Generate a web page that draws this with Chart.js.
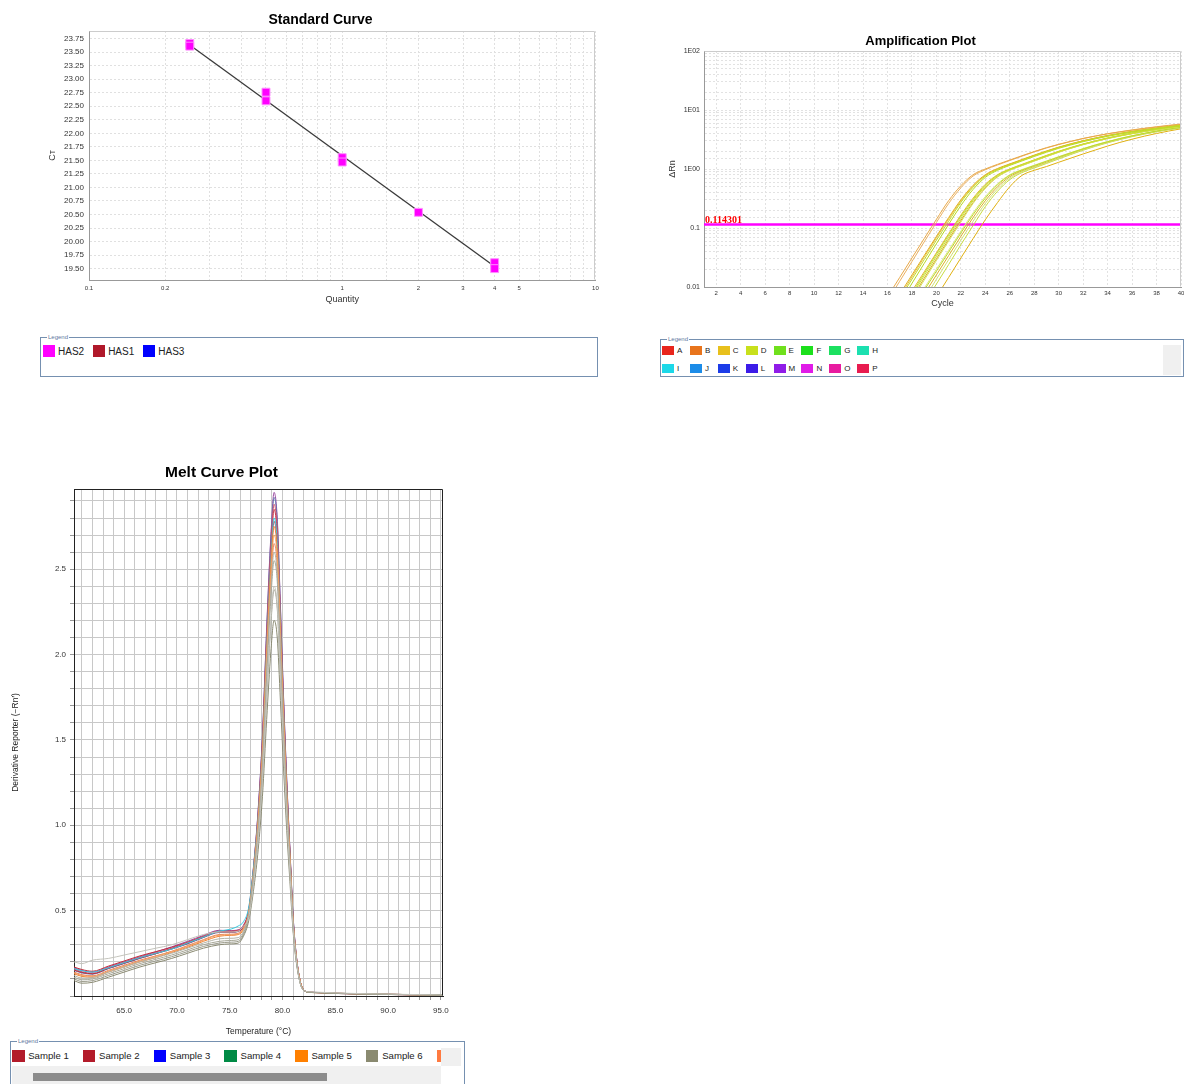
<!DOCTYPE html>
<html>
<head>
<meta charset="utf-8">
<script src="https://cdn.jsdelivr.net/npm/chart.js@4.4.0/dist/chart.umd.min.js"></script>
<style>
body{margin:0;background:#fff;width:1184px;height:1084px;position:relative;overflow:hidden;font-family:"Liberation Sans",Arial,sans-serif;color:#222;}
canvas{position:absolute;}
.lgbox{position:absolute;border:1px solid #7590b0;box-sizing:border-box;background:#fff;}
.lgbox .cap{position:absolute;left:6px;top:-5px;font-size:6px;line-height:8px;color:#6078a0;background:#fff;padding:0 1px;}
.items{position:absolute;white-space:nowrap;}
.items .it{display:inline-flex;align-items:center;}
.items i{display:inline-block;}
#stdItems{left:2px;top:5px;}
#stdItems .it{margin-right:9px;font-size:10px;}
#stdItems i{width:12px;height:12px;margin-right:3px;}
#ampItems{left:1px;top:6px;display:grid;grid-template-columns:repeat(8,27.9px);grid-auto-rows:18.3px;}
#ampItems .it{font-size:8px;height:9px;}
#ampItems i{width:12px;height:9px;margin-right:3px;}
#meltItems{left:1px;top:6px;width:429px;overflow:hidden;}
#meltItems .it{width:70.8px;font-size:9.6px;}
#meltItems i{width:12.5px;height:12.5px;margin-right:3.7px;flex:none;}
.gray{position:absolute;background:#f0f0f0;}
</style>
</head>
<body>
<canvas id="std" width="562" height="310" style="left:40px;top:0px"></canvas>
<canvas id="amp" width="524" height="290" style="left:660px;top:20px"></canvas>
<canvas id="melt" width="474" height="600" style="left:0px;top:450px"></canvas>

<div class="lgbox" style="left:40px;top:337px;width:558px;height:40px"><span class="cap">Legend</span><div class="items" id="stdItems"></div></div>
<div class="lgbox" style="left:660px;top:339px;width:524px;height:38px"><span class="cap">Legend</span><div class="items" id="ampItems"></div><div class="gray" style="left:502px;top:5px;width:18px;height:30px"></div></div>
<div class="lgbox" style="left:10px;top:1041px;width:455px;height:60px"><span class="cap">Legend</span><div class="items" id="meltItems"></div>
  <div class="gray" style="left:430px;top:6px;width:20px;height:18px"></div>
  <div class="gray" style="left:1px;top:24px;width:429px;height:20px"><div style="position:absolute;left:21px;top:7px;width:294px;height:8px;background:#8c8c8c"></div></div>
</div>

<script>
// ---- Standard curve ----
var stdQty = [0.25, 0.25, 0.5, 0.5, 1, 1, 2, 4, 4];
var stdCt = [23.66, 23.61, 22.76, 22.60, 21.55, 21.47, 20.54, 19.61, 19.50];
var stdFitQty = [0.25, 4];
var stdFitCt = [23.63, 19.54];
var stdXLabels = [0.1, 0.2, 1, 2, 3, 4, 5, 10];
var stdSeries = ['HAS2', 'HAS1', 'HAS3'];
var stdSeriesColors = ['#ff00ff', '#b0182a', '#0000ff'];

// ---- Amplification plot ----
var ampThreshold = 0.114301;
var ampYTicks = [0.01, 0.1, 1, 10, 100];
var ampYLabels = ['0.01', '0.1', '1E00', '1E01', '1E02'];
var ampStart = [17, 17, 18, 18, 18, 19, 19, 19, 19, 16, 16, 17, 17, 18, 18, 19, 20];
var ampColors = ['#c4dc28', '#b8d820', '#cce030', '#d4e460', '#c0dc30', '#bcd828', '#d0e070', '#c8dc40', '#dce880',
                 '#e8a848', '#eab060', '#e0b020', '#e8c040', '#e4b830', '#d8a820', '#dcb028', '#e0b010'];
var ampCurves = [
  [0.0062,0.0135,0.029,0.062,0.13,0.27,0.49,0.76,0.98,1.18,1.41,1.68,1.98,2.3,2.63,2.97,3.31,3.65,3.97,4.3,4.6,4.9,5.2,5.5],
  [0.0052,0.0115,0.025,0.054,0.115,0.24,0.45,0.72,0.95,1.15,1.37,1.63,1.92,2.24,2.56,2.9,3.24,3.58,3.9,4.22,4.53,4.83,5.12,5.4],
  [0.0072,0.0155,0.033,0.07,0.146,0.29,0.51,0.77,0.98,1.17,1.4,1.66,1.96,2.28,2.62,2.96,3.32,3.66,4.0,4.35,4.68,5.0,5.3],
  [0.006,0.013,0.028,0.06,0.126,0.26,0.47,0.73,0.95,1.14,1.36,1.62,1.92,2.24,2.58,2.92,3.27,3.62,3.96,4.3,4.63,4.95,5.25],
  [0.0078,0.0168,0.036,0.076,0.157,0.305,0.53,0.785,0.99,1.18,1.41,1.68,1.98,2.3,2.64,2.98,3.34,3.68,4.03,4.37,4.7,5.02,5.32],
  [0.0088,0.0185,0.039,0.082,0.168,0.32,0.54,0.78,0.96,1.14,1.35,1.6,1.88,2.2,2.55,2.9,3.28,3.65,4.02,4.4,4.75,5.1],
  [0.0062,0.0135,0.029,0.062,0.13,0.26,0.46,0.7,0.9,1.07,1.27,1.52,1.8,2.12,2.46,2.82,3.2,3.58,3.95,4.32,4.68,5.02],
  [0.0052,0.0112,0.024,0.052,0.11,0.23,0.42,0.66,0.87,1.04,1.24,1.48,1.76,2.08,2.42,2.78,3.15,3.53,3.9,4.28,4.63,4.98],
  [0.0095,0.02,0.042,0.088,0.18,0.34,0.56,0.8,0.98,1.16,1.37,1.62,1.9,2.22,2.57,2.92,3.3,3.67,4.04,4.42,4.77,5.12],
  [0.0068,0.0145,0.031,0.066,0.14,0.29,0.52,0.8,1.0,1.2,1.42,1.68,1.98,2.3,2.62,2.95,3.3,3.62,3.95,4.25,4.55,4.85,5.15,5.42,5.7],
  [0.0058,0.0125,0.027,0.058,0.124,0.26,0.48,0.76,0.97,1.17,1.39,1.65,1.95,2.27,2.6,2.93,3.28,3.62,3.96,4.28,4.6,4.9,5.2,5.5,5.8],
  [0.0075,0.016,0.034,0.072,0.15,0.3,0.53,0.8,1.02,1.22,1.45,1.72,2.02,2.35,2.68,3.02,3.36,3.7,4.02,4.35,4.65,4.95,5.25,5.55],
  [0.0068,0.0148,0.032,0.068,0.142,0.285,0.51,0.78,1.0,1.2,1.43,1.7,2.0,2.33,2.66,3.0,3.34,3.68,4.0,4.33,4.63,4.93,5.23,5.52],
  [0.0085,0.018,0.038,0.08,0.165,0.32,0.55,0.8,1.0,1.2,1.43,1.7,2.0,2.32,2.66,3.0,3.36,3.7,4.05,4.4,4.72,5.05,5.35],
  [0.0065,0.014,0.03,0.064,0.134,0.27,0.48,0.74,0.96,1.15,1.37,1.63,1.93,2.26,2.6,2.94,3.3,3.64,3.98,4.32,4.65,4.97,5.27],
  [0.0075,0.016,0.034,0.072,0.15,0.29,0.5,0.74,0.93,1.1,1.3,1.55,1.83,2.15,2.5,2.85,3.22,3.6,3.97,4.35,4.7,5.05],
  [0.0068,0.0145,0.031,0.066,0.138,0.27,0.5,0.78,0.95,1.1,1.3,1.53,1.8,2.1,2.45,2.82,3.2,3.6,4.0,4.4,4.8]
];
var ampWells = ['A','B','C','D','E','F','G','H','I','J','K','L','M','N','O','P'];
var ampWellColors = ['#e8251c','#e8741c','#e8c01c','#c8e01c','#70e01c','#1ce01c','#1ce060','#1ce0b0',
                     '#1cd8e8','#1c8ce8','#1c3ce8','#3c1ce8','#901ce8','#e01ce8','#e81ca0','#e81c50'];

// ---- Melt curve ----
var meltTemp = [60.25,61,62,63.5,65,66.5,68,69.5,71,72.5,74,75,75.8,76.3,76.8,77.3,77.7,78.1,78.5,78.9,79.2,79.5,79.8,80.1,80.4,80.7,81.0,81.3,81.7,82.1,82.6,83.5,85,88,91,95.2];
var meltXLabels = [65, 70, 75, 80, 85, 90, 95];
var meltYLabels = [0.5, 1.0, 1.5, 2.0, 2.5];
var meltColors = ['#c4c4bc','#8a8a72','#9c9c8c','#a8a898','#b4b4a8',
                  '#f4a060','#e8805a','#f08030','#38c8e0','#b83040','#d0506a','#c0303c','#6070b0','#9a4aa0'];
var meltCurves = [
  [0.2,0.19,0.21,0.22,0.24,0.26,0.28,0.3,0.33,0.36,0.375,0.375,0.38,0.41,0.46,0.68,0.92,1.27,1.76,2.2,2.4,2.29,1.88,1.44,1.05,0.72,0.4,0.21,0.07,0.03,0.024,0.022,0.018,0.013,0.01,0.006],
  [0.09,0.075,0.08,0.11,0.14,0.17,0.195,0.22,0.25,0.28,0.3,0.305,0.31,0.35,0.44,0.64,0.86,1.17,1.62,2.02,2.2,2.1,1.73,1.33,0.97,0.67,0.38,0.2,0.07,0.03,0.021,0.019,0.015,0.011,0.008,0.005],
  [0.1,0.085,0.09,0.12,0.15,0.18,0.205,0.23,0.26,0.29,0.31,0.315,0.32,0.36,0.46,0.68,0.91,1.26,1.75,2.18,2.38,2.27,1.86,1.43,1.04,0.72,0.4,0.21,0.07,0.03,0.022,0.02,0.016,0.012,0.009,0.006],
  [0.11,0.095,0.1,0.13,0.16,0.19,0.215,0.24,0.27,0.3,0.32,0.325,0.33,0.37,0.48,0.72,0.97,1.34,1.87,2.33,2.55,2.43,1.99,1.52,1.11,0.76,0.42,0.22,0.07,0.03,0.022,0.02,0.016,0.012,0.009,0.006],
  [0.12,0.105,0.108,0.14,0.17,0.2,0.225,0.25,0.28,0.31,0.335,0.338,0.342,0.38,0.48,0.72,0.98,1.36,1.91,2.38,2.6,2.47,2.03,1.55,1.13,0.78,0.42,0.22,0.07,0.03,0.022,0.02,0.016,0.012,0.009,0.006],
  [0.135,0.12,0.115,0.145,0.175,0.205,0.232,0.26,0.29,0.326,0.356,0.358,0.364,0.394,0.49,0.74,1.02,1.41,1.98,2.47,2.7,2.57,2.1,1.61,1.17,0.8,0.44,0.23,0.08,0.03,0.022,0.02,0.016,0.012,0.009,0.006],
  [0.14,0.125,0.118,0.15,0.18,0.21,0.235,0.262,0.295,0.33,0.36,0.362,0.368,0.398,0.48,0.73,1.0,1.39,1.95,2.43,2.65,2.52,2.06,1.58,1.15,0.79,0.43,0.22,0.08,0.03,0.022,0.02,0.016,0.012,0.009,0.006],
  [0.13,0.115,0.11,0.14,0.17,0.2,0.225,0.255,0.285,0.32,0.35,0.355,0.36,0.39,0.49,0.75,1.04,1.44,2.02,2.52,2.75,2.61,2.14,1.64,1.19,0.82,0.44,0.23,0.08,0.03,0.021,0.019,0.015,0.011,0.008,0.005],
  [0.16,0.148,0.14,0.165,0.195,0.225,0.25,0.275,0.31,0.345,0.38,0.39,0.41,0.435,0.52,0.78,1.06,1.46,2.05,2.56,2.8,2.66,2.18,1.67,1.21,0.83,0.45,0.23,0.08,0.03,0.022,0.02,0.016,0.012,0.009,0.006],
  [0.152,0.138,0.13,0.162,0.192,0.222,0.248,0.276,0.308,0.344,0.374,0.374,0.38,0.406,0.5,0.76,1.05,1.46,2.05,2.54,2.78,2.64,2.16,1.66,1.2,0.83,0.45,0.23,0.08,0.03,0.022,0.02,0.016,0.012,0.009,0.006],
  [0.158,0.142,0.133,0.165,0.196,0.226,0.252,0.28,0.312,0.348,0.378,0.378,0.383,0.41,0.5,0.78,1.08,1.5,2.11,2.63,2.88,2.73,2.23,1.71,1.24,0.85,0.46,0.24,0.08,0.03,0.022,0.02,0.016,0.012,0.009,0.006],
  [0.17,0.155,0.145,0.175,0.205,0.235,0.26,0.285,0.315,0.35,0.38,0.38,0.385,0.41,0.5,0.77,1.06,1.48,2.08,2.6,2.85,2.7,2.21,1.69,1.23,0.84,0.45,0.23,0.08,0.03,0.022,0.02,0.016,0.012,0.009,0.006],
  [0.15,0.135,0.128,0.16,0.19,0.22,0.248,0.275,0.305,0.342,0.372,0.372,0.378,0.405,0.5,0.78,1.09,1.52,2.14,2.68,2.92,2.78,2.27,1.74,1.26,0.86,0.47,0.24,0.08,0.03,0.022,0.019,0.015,0.011,0.008,0.005],
  [0.165,0.15,0.14,0.17,0.2,0.23,0.258,0.288,0.32,0.355,0.385,0.383,0.388,0.415,0.51,0.79,1.1,1.53,2.16,2.7,2.95,2.8,2.29,1.75,1.27,0.86,0.47,0.24,0.08,0.03,0.023,0.02,0.015,0.012,0.008,0.005]
];
var meltSamples = ['Sample 1','Sample 2','Sample 3','Sample 4','Sample 5','Sample 6','Sample 7'];
var meltSampleColors = ['#b31b2a','#b31b2a','#0000ff','#008a45','#ff8000','#8a8a70','#ff7a40'];

Chart.defaults.font.family = '"Liberation Sans", Arial, sans-serif';
Chart.defaults.color = '#333';
Chart.defaults.animation = false;

// light frame on top/right of the plot area
Chart.register({
    id: 'frame',
    afterDraw: function(chart, args, opts) {
        if (!opts.color) return;
        var a = chart.chartArea, c = chart.ctx;
        c.save();
        c.strokeStyle = opts.color;
        c.lineWidth = 1;
        c.beginPath();
        c.moveTo(Math.round(a.left) + 0.5, Math.round(a.top) + 0.5);
        c.lineTo(Math.round(a.right) - 0.5, Math.round(a.top) + 0.5);
        c.lineTo(Math.round(a.right) - 0.5, Math.round(a.bottom) - 0.5);
        c.stroke();
        c.restore();
    }
});
// threshold value written over the line
Chart.register({
    id: 'thrLabel',
    afterDatasetsDraw: function(chart, args, opts) {
        if (!opts.text) return;
        var y = chart.scales.y.getPixelForValue(opts.value);
        var c = chart.ctx;
        c.save();
        c.font = 'bold 10px "Liberation Serif", serif';
        c.fillStyle = '#ff0000';
        c.textBaseline = 'alphabetic';
        c.fillText(opts.text, chart.chartArea.left + 1, y - 2);
        c.restore();
    }
});

function near(v, list) {
    for (var i = 0; i < list.length; i++) {
        if (Math.abs(v / list[i] - 1) < 1e-6) return i;
    }
    return -1;
}
// keep the plot edge where it is, labels at the ends may hang over
function fitX(h) {
    return function(s) { s.height = h; s.paddingLeft = 0; s.paddingRight = 0; };
}

// Standard Curve
var stdPts = stdQty.map(function(q, i) { return {x: q, y: stdCt[i]}; });
var stdFit = stdFitQty.map(function(q, i) { return {x: q, y: stdFitCt[i]}; });
new Chart(document.getElementById('std'), {
    type: 'scatter',
    data: {
        datasets: [
            {type: 'line', data: stdFit, borderColor: '#3a3a3a', borderWidth: 1.3, pointRadius: 0, order: 2},
            {data: stdPts, pointStyle: 'rect', pointRadius: 5.6, backgroundColor: '#ff00ff', borderColor: '#ff8cff', borderWidth: 1, order: 1}
        ]
    },
    options: {
        responsive: false,
        devicePixelRatio: 1,
        layout: {padding: {right: 1}},
        plugins: {
            legend: {display: false},
            tooltip: {enabled: false},
            title: {display: true, text: 'Standard Curve', color: '#000', font: {size: 14, weight: 'bold'}, padding: {top: 11.6, bottom: 2.6}},
            frame: {color: '#cccccc'}
        },
        scales: {
            x: {
                type: 'logarithmic', min: 0.1, max: 10,
                afterFit: fitX(30),
                grid: {color: '#e0e0e0', drawTicks: false},
                border: {color: '#999', dash: [2, 2]},
                ticks: {autoSkip: false, maxRotation: 0, font: {size: 6}, padding: 5,
                    callback: function(v) { var k = near(v, stdXLabels); return k < 0 ? '' : String(stdXLabels[k]); }},
                title: {display: true, text: 'Quantity', font: {size: 9}, color: '#333', padding: {top: 0, bottom: 4.6}}
            },
            y: {
                min: 19.29, max: 23.89,
                afterFit: function(s) { s.width = 49; },
                grid: {color: '#e0e0e0', drawTicks: false},
                border: {color: '#999', dash: [2, 2]},
                ticks: {stepSize: 0.25, includeBounds: false, font: {size: 8}, padding: 5,
                    callback: function(v) { return v.toFixed(2); }},
                title: {display: true, text: 'Cᴛ', font: {size: 9}, color: '#333', padding: {top: 7.6, bottom: 0}}
            }
        }
    }
});

// Amplification Plot
var ampSets = ampCurves.map(function(vals, k) {
    return {
        data: vals.map(function(v, i) { return {x: ampStart[k] + i, y: v}; }),
        borderColor: ampColors[k], borderWidth: 1, pointRadius: 0, cubicInterpolationMode: 'monotone'
    };
});
ampSets.push({data: [{x: 1, y: ampThreshold}, {x: 40, y: ampThreshold}], borderColor: '#ff00ff', borderWidth: 2.5, pointRadius: 0});
new Chart(document.getElementById('amp'), {
    type: 'line',
    data: {datasets: ampSets},
    options: {
        responsive: false,
        devicePixelRatio: 1,
        layout: {padding: {right: 3}},
        plugins: {
            legend: {display: false},
            tooltip: {enabled: false},
            title: {display: true, text: 'Amplification Plot', color: '#000', font: {size: 13, weight: 'bold'}, padding: {top: 13.2, bottom: 2.2}},
            frame: {color: '#cccccc'},
            thrLabel: {text: String(ampThreshold), value: ampThreshold}
        },
        scales: {
            x: {
                type: 'linear', min: 1, max: 40,
                afterFit: fitX(23),
                grid: {color: '#e2e2e2', drawTicks: false},
                border: {color: '#999', dash: [2, 2]},
                ticks: {stepSize: 2, includeBounds: false, autoSkip: false, maxRotation: 0, font: {size: 6}, padding: 3},
                title: {display: true, text: 'Cycle', font: {size: 9}, color: '#333', padding: {top: 0, bottom: 0.6}}
            },
            y: {
                type: 'logarithmic', min: 0.01, max: 100,
                afterFit: function(s) { s.width = 44; },
                grid: {color: '#e2e2e2', drawTicks: false},
                border: {color: '#999', dash: [2, 2]},
                ticks: {autoSkip: false, font: {size: 7}, padding: 4,
                    callback: function(v) { var k = near(v, ampYTicks); return k < 0 ? '' : ampYLabels[k]; }},
                title: {display: true, text: 'ΔRn', font: {size: 9}, color: '#333', padding: {top: 7.6, bottom: 0}}
            }
        }
    }
});

// Melt Curve Plot
var meltSets = meltCurves.map(function(vals, k) {
    return {
        data: vals.map(function(v, i) { return {x: meltTemp[i], y: v}; }),
        borderColor: meltColors[k], borderWidth: 1, pointRadius: 0, cubicInterpolationMode: 'monotone'
    };
});
new Chart(document.getElementById('melt'), {
    type: 'line',
    data: {datasets: meltSets},
    options: {
        responsive: false,
        devicePixelRatio: 1,
        layout: {padding: {right: 31}},
        plugins: {
            legend: {display: false},
            tooltip: {enabled: false},
            title: {display: true, text: 'Melt Curve Plot', color: '#000', font: {size: 15.5, weight: 'bold'}, padding: {top: 13.7, bottom: 6.7}},
            frame: {color: '#222'}
        },
        scales: {
            x: {
                type: 'linear', min: 60.25, max: 95.2,
                afterFit: fitX(54),
                grid: {color: '#c8c8c8', tickLength: 4, tickColor: '#999'},
                border: {color: '#222'},
                ticks: {stepSize: 1, includeBounds: false, autoSkip: false, maxRotation: 0, font: {size: 8}, color: '#333', padding: 6,
                    callback: function(v) { return meltXLabels.indexOf(Math.round(v)) >= 0 && Math.abs(v - Math.round(v)) < 1e-6 ? v.toFixed(1) : ''; }},
                title: {display: true, text: 'Temperature (°C)', font: {size: 8.5}, color: '#222', padding: {top: 0, bottom: 12.9}}
            },
            y: {
                min: 0, max: 2.97,
                afterFit: function(s) { s.width = 74; },
                grid: {color: '#c8c8c8', tickLength: 4, tickColor: '#999'},
                border: {color: '#222'},
                ticks: {stepSize: 0.1, includeBounds: false, autoSkip: false, font: {size: 8}, color: '#333', padding: 4,
                    callback: function(v) { return near(v, meltYLabels) < 0 ? '' : v.toFixed(1); }},
                title: {display: true, text: 'Derivative Reporter (−Rn\u2032)', font: {size: 8.5}, color: '#222', padding: {top: 10.9, bottom: 0}}
            }
        }
    }
});

// legends
function fillLegend(id, names, colors) {
    var box = document.getElementById(id);
    names.forEach(function(n, i) {
        var it = document.createElement('span');
        it.className = 'it';
        it.innerHTML = '<i style="background:' + colors[i] + '"></i>' + n;
        box.appendChild(it);
    });
}
fillLegend('stdItems', stdSeries, stdSeriesColors);
fillLegend('ampItems', ampWells, ampWellColors);
fillLegend('meltItems', meltSamples, meltSampleColors);
</script>
</body>
</html>
